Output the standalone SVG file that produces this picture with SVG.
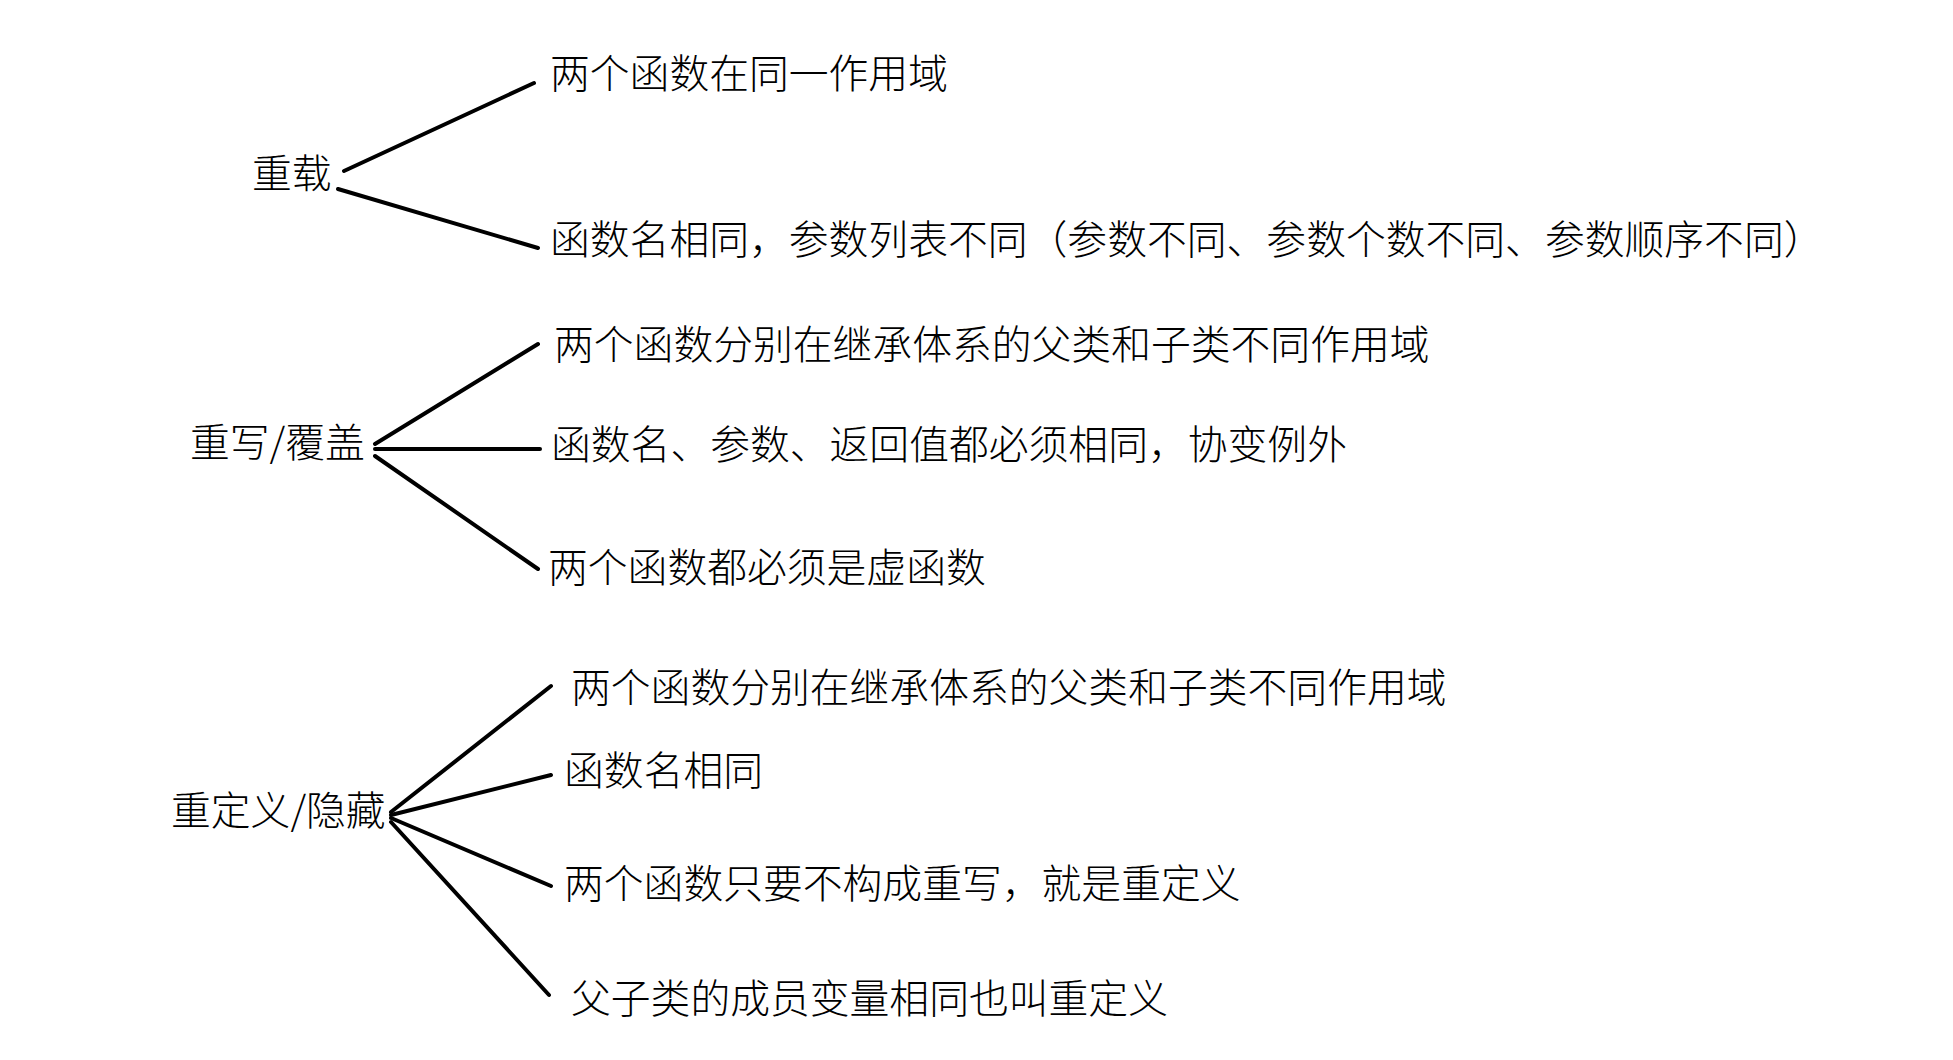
<svg xmlns="http://www.w3.org/2000/svg" width="1953" height="1060" viewBox="0 0 1953 1060">
<style>
text{font-family:"Noto Sans CJK SC","Noto Sans",sans-serif;font-size:39.8px;font-weight:300;fill:#000;dominant-baseline:central}
line{stroke:#000;stroke-width:4;stroke-linecap:round}
</style>
<rect width="1953" height="1060" fill="#fff"/>
<g id="connectors">
<line x1="344" y1="171" x2="534" y2="83"/>
<line x1="338" y1="189" x2="538" y2="248"/>
<line x1="375" y1="444" x2="538" y2="344"/>
<line x1="375" y1="449" x2="540" y2="449"/>
<line x1="375" y1="456" x2="538" y2="569"/>
<line x1="391" y1="812" x2="551" y2="686"/>
<line x1="391" y1="815" x2="551" y2="775"/>
<line x1="391" y1="818" x2="551" y2="886"/>
<line x1="391" y1="822" x2="549" y2="995"/>
</g>
<g id="n1"><text x="252" y="170">重载</text></g>
<g id="n1a"><text x="550" y="70">两个函数在同一作用域</text></g>
<g id="n1b"><text x="550" y="236">函数名相同，参数列表不同（参数不同、参数个数不同、参数顺序不同）</text></g>
<g id="n2"><text x="190" y="439">重写/覆盖</text></g>
<g id="n2a"><text x="554" y="341">两个函数分别在继承体系的父类和子类不同作用域</text></g>
<g id="n2b"><text x="551" y="441">函数名、参数、返回值都必须相同，协变例外</text></g>
<g id="n2c"><text x="548" y="564">两个函数都必须是虚函数</text></g>
<g id="n3"><text x="171" y="807">重定义/隐藏</text></g>
<g id="n3a"><text x="571" y="684">两个函数分别在继承体系的父类和子类不同作用域</text></g>
<g id="n3b"><text x="564" y="767">函数名相同</text></g>
<g id="n3c"><text x="564" y="880">两个函数只要不构成重写，就是重定义</text></g>
<g id="n3d"><text x="571" y="995">父子类的成员变量相同也叫重定义</text></g>
</svg>
